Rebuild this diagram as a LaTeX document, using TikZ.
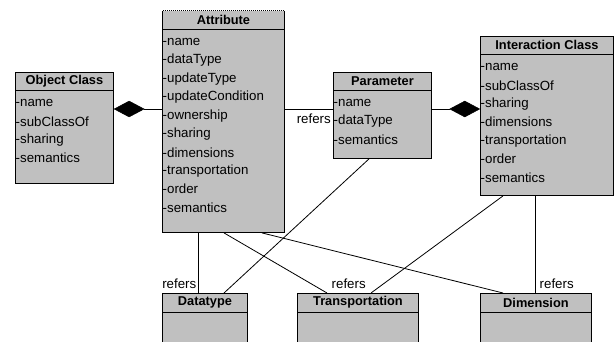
\documentclass[tikz,border=0pt]{standalone}
\usepackage{fontspec}
\setmainfont{Liberation Sans}
\usetikzlibrary{shapes.geometric}
\definecolor{boxgray}{HTML}{C0C0C0}
\begin{document}
\begin{tikzpicture}[x=1pt,y=-1pt,
  box/.style={draw=black, fill=boxgray, line width=0.9pt, anchor=north west, inner sep=0pt},
  title/.style={font=\fontsize{12.8}{14}\selectfont\bfseries, inner sep=0pt},
  item/.style={font=\fontsize{13.3}{15}\selectfont, anchor=west, inner sep=0.5pt},
  lbl/.style={font=\fontsize{13.3}{15}\selectfont, inner sep=0pt},
  conn/.style={line width=0.8pt},
  agg/.style={diamond, fill=black, draw=black, line width=0.5pt, minimum width=30pt, minimum height=16pt, inner sep=0pt}
]
\useasboundingbox (0,0) rectangle (614,341);
\fill[white] (0,0) rectangle (614,341);
\clip (0,0) rectangle (614,341);

% class boxes
\node[box, minimum width=98pt, minimum height=111pt] (oc) at (15,72) {};
\node[box, minimum width=122pt, minimum height=222pt] (att) at (162,10) {};
\node[box, minimum width=98pt, minimum height=86pt] (par) at (333,72) {};
\node[box, minimum width=133pt, minimum height=159pt] (ic) at (480,36) {};
\node[box, minimum width=85pt, minimum height=60pt] (dt) at (162,293) {};
\node[box, minimum width=121pt, minimum height=60pt] (tr) at (297,293) {};
\node[box, minimum width=111pt, minimum height=60pt] (dim) at (480,293) {};

% dotted top of Attribute
\draw[white, line width=0.9pt, dash pattern=on 1pt off 1pt] (att.north west) -- (att.north east);

% header separators
\draw[conn] (oc.west |- 0,90) -- (oc.east |- 0,90);
\draw[conn] (att.west |- 0,29) -- (att.east |- 0,29);
\draw[conn] (par.west |- 0,90) -- (par.east |- 0,90);
\draw[conn] (ic.west |- 0,54) -- (ic.east |- 0,54);
\draw[conn] (dt.west |- 0,312) -- (dt.east |- 0,312);
\draw[conn] (tr.west |- 0,312) -- (tr.east |- 0,312);
\draw[conn] (dim.west |- 0,312) -- (dim.east |- 0,312);

% titles
\node[title] (oct) at (oc.north |- 0,81) {Object Class};
\node[title] (attt) at (att.north |- 0,19.5) {Attribute};
\node[title] (part) at (par.north |- 0,81) {Parameter};
\node[title] (ict) at (ic.north |- 0,45) {Interaction Class};
\node[title] (dtt) at (dt.north |- 0,302.5) {Datatype};
\node[title] (trt) at (tr.north |- 0,302.5) {Transportation};
\node[title] (dimt) at (dim.north |- 0,302.5) {Dimension};

% attributes
\foreach \t [count=\i from 0] in {-name,-subClassOf,-sharing,-semantics}
  \path (oc.north west) ++(0,{31+18.3*\i}) node[item] (oc-\i) {\t};
\foreach \t [count=\i from 0] in {-name,-dataType,-updateType,-updateCondition,-ownership,-sharing,-dimensions,-transportation,-order,-semantics}
  \path (att.north west) ++(0,{32+18.4*\i}) node[item] (att-\i) {\t};
\foreach \t [count=\i from 0] in {-name,-dataType,-semantics}
  \path (par.north west) ++(0,{31+18.5*\i}) node[item] (par-\i) {\t};
\foreach \t [count=\i from 0] in {-name,-subClassOf,-sharing,-dimensions,-transportation,-order,-semantics}
  \path (ic.north west) ++(0,{31+18.4*\i}) node[item] (ic-\i) {\t};

% aggregations
\node[agg, anchor=west] (d1) at (oc.east |- 0,109) {};
\draw[conn] (d1.east) -- (att.west |- d1.east);
\node[agg, anchor=east] (d2) at (ic.west |- 0,109) {};
\draw[conn] (par.east |- d2.west) -- (d2.west);

% refers Attribute - Parameter
\draw[conn] (att.east |- 0,109) -- (par.west |- 0,109);
\node[lbl, anchor=east] (r0) at (331,119) {refers};

% bottom connectors
\draw[conn] (att.south -| 198,0) -- (dt.north -| 198,0);
\draw[conn] (att.south -| 224,0) -- (tr.north -| 327,0);
\draw[conn] (att.south -| 262,0) -- (dim.north -| 503,0);
\draw[conn] (par.south -| 369,0) -- (dt.north -| 224,0);
\draw[conn] (ic.south -| 503,0) -- (tr.north -| 371,0);
\draw[conn] (ic.south -| 535,0) -- (dim.north -| 535,0);

\node[lbl, anchor=east] (r1) at (196.5,284) {refers};
\node[lbl, anchor=west] (r2) at (331.5,284) {refers};
\node[lbl, anchor=west] (r3) at (539.5,284) {refers};
\end{tikzpicture}
\end{document}
